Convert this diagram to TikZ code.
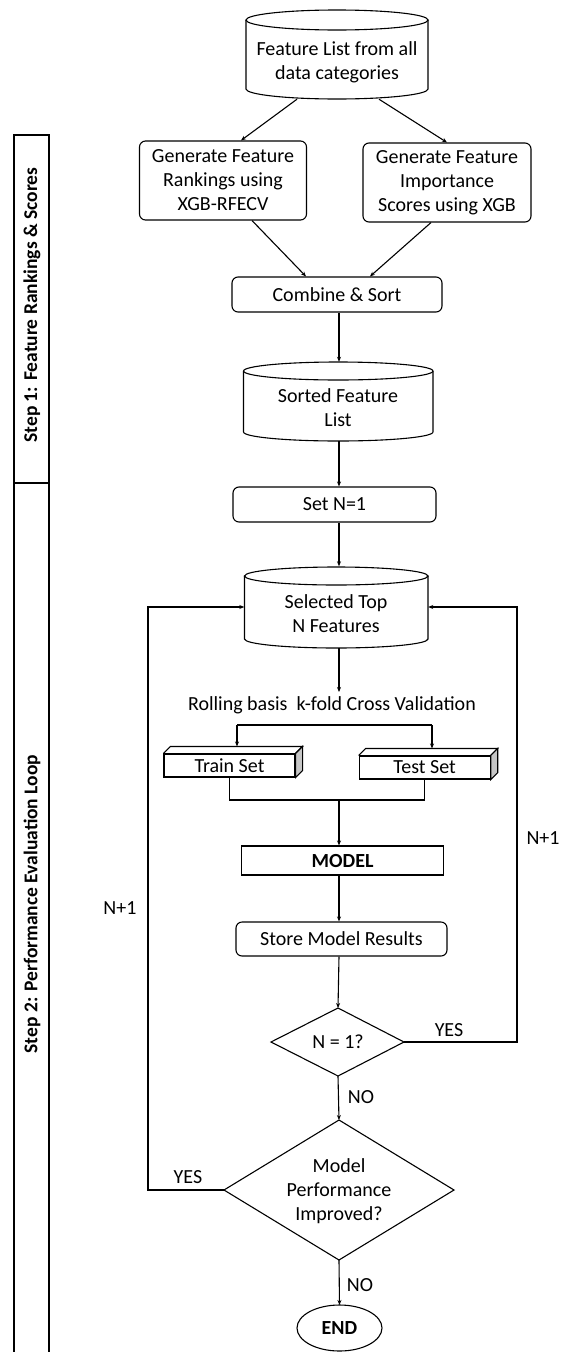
\documentclass[tikz,border=0pt]{standalone}
\usepackage{fontspec}
\setmainfont{Carlito}
\usetikzlibrary{arrows.meta,calc}
\newcommand\myfs{\fontsize{20}{24}\selectfont}
\newcommand\drawcyl[5]{%
  \pgfmathsetmacro\cylrx{(#2-#1)/2}%
  \draw[ln] (#1,#3+#5) -- (#1,#4-#5) arc[start angle=180,end angle=360,x radius=\cylrx pt,y radius=#5 pt] -- (#2,#3+#5);
  \draw[ln] ({(#1+#2)/2},#3+#5) ellipse[x radius=\cylrx pt, y radius=#5 pt];
}
\begin{document}
\begin{tikzpicture}[x=1pt,y=-1pt,
  base/.style={font=\myfs, align=center, inner sep=0pt},
  rbox/.style={base, draw, rounded corners=6pt, line width=1.1pt},
  sbox/.style={base, draw, line width=1.1pt},
  ghost/.style={inner sep=0pt},
  ln/.style={line width=1.1pt},
  arr/.style={ln, -{Stealth[length=5pt,width=4pt]}},
  lane/.style={font=\fontsize{19.5}{23}\selectfont\bfseries, rotate=90, inner sep=0pt}
]
\useasboundingbox (0,0) rectangle (568,1352);

% swimlane
\draw[ln] (14,135) rectangle (49,483);
\draw[ln] (14,483) -- (14,1353);
\draw[ln] (49,483) -- (49,1353);
\node[lane] (s1) at (32,305) {Step 1: Feature Rankings \& Scores};
\node[lane] (s2) at (32,904) {Step 2: Performance Evaluation Loop};

% cylinder 1
\drawcyl{246}{428}{10}{99}{10}
\node[ghost, minimum width=182pt, minimum height=89pt] (c1) at (337,54.5) {};
\node[base] (c1t) at (337,62) {Feature List from all\\data categories};

% two boxes
\node[rbox, minimum width=167pt, minimum height=79pt] (b1) at (223,180.5) {Generate Feature\\Rankings using\\XGB-RFECV};
\node[rbox, minimum width=168pt, minimum height=79pt] (b2) at (447,182.5) {Generate Feature\\Importance\\Scores using XGB};

\node[rbox, minimum width=210pt, minimum height=35pt] (cs) at (337,294.5) {Combine \& Sort};

% cylinder 2
\drawcyl{243.5}{433}{362}{441}{9}
\node[ghost, minimum width=189.5pt, minimum height=79pt] (c2) at (338.25,401.5) {};
\node[base] (c2t) at (338,408) {Sorted Feature\\List};

\node[rbox, minimum width=203pt, minimum height=35pt] (sn) at (334.5,504.5) {Set N=1};

% cylinder 3
\drawcyl{244.5}{428}{567}{648}{9}
\node[ghost, minimum width=183.5pt, minimum height=81pt] (c3) at (336.25,607) {};
\node[base] (c3t) at (336,614) {Selected Top\\N Features};

\node[base] (roll) at (332,705) {Rolling basis\ \ k-fold Cross Validation};

% train / test
\node[sbox, minimum width=131pt, minimum height=23pt] (tr) at (229.5,765.5) {Train Set};
\node[sbox, minimum width=131pt, minimum height=23pt] (te) at (424.7,767.5) {Test Set};
\foreach \b in {tr,te}{
  \draw[ln] (\b.north west) -- ([shift={(7,-7)}]\b.north west) -- ([shift={(7,-7)}]\b.north east) -- (\b.north east);
  \draw[ln, fill=gray!45] (\b.north east) -- ([shift={(7,-7)}]\b.north east) -- ([shift={(7,-7)}]\b.south east) -- (\b.south east) -- cycle;
}
\coordinate (trt) at ([yshift=7pt]tr.north);
\coordinate (tet) at ([yshift=7pt]te.north);
\coordinate (bl) at (237,725);
\coordinate (br) at (432,725);
\draw[ln] (bl) -- (br);
\draw[arr] (bl) -- (bl |- trt);
\draw[arr] (br) -- (br |- tet);
\coordinate (jn) at (339,800);
\draw[ln] (tr.south) |- (jn) -| (te.south);

\node[sbox, minimum width=202pt, minimum height=29pt, font=\myfs\bfseries] (md) at (342.6,860.5) {MODEL};
\node[rbox, minimum width=211pt, minimum height=34pt] (st) at (341.5,939) {Store Model Results};

% diamonds
\node[base] (d1) at (338,1042) {N = 1?};
\coordinate (d1n) at (338,1008);
\coordinate (d1e) at (404,1042);
\coordinate (d1s) at (338,1076);
\coordinate (d1w) at (271,1042);
\draw[ln] (d1n) -- (d1e) -- (d1s) -- (d1w) -- cycle;

\node[base] (d2) at (339,1191) {Model\\Performance\\Improved?};
\coordinate (d2n) at (339,1120);
\coordinate (d2e) at (454,1190);
\coordinate (d2s) at (339,1260);
\coordinate (d2w) at (224,1190);
\draw[ln] (d2n) -- (d2e) -- (d2s) -- (d2w) -- cycle;

\node[base, font=\myfs\bfseries] (en) at (339.5,1328) {END};
\draw[ln] (en) ellipse[x radius=42.5pt, y radius=23pt];
\coordinate (ent) at (339.5,1305);

% main connectors
\draw[arr] ([xshift=-40pt]c1.south) -- ([xshift=18pt]b1.north);
\draw[arr] ([xshift=42pt]c1.south) -- (b2.north);
\draw[arr] ([xshift=29pt]b1.south) -- ([xshift=-31pt]cs.north);
\draw[arr] ([xshift=-16pt]b2.south) -- ([xshift=33pt]cs.north);
\draw[arr] (jn |- cs.south) -- (jn |- c2.north);
\draw[arr] (jn |- c2.south) -- (jn |- sn.north);
\draw[arr] (jn |- sn.south) -- (jn |- c3.north);
\coordinate (rt) at (339,692);
\draw[arr] (jn |- c3.south) -- (rt);
\draw[arr] (jn) -- (jn |- md.north);
\draw[arr] (jn |- md.south) -- (jn |- st.north);
\draw[arr] (jn |- st.south) -- (d1n);
\draw[arr] (d1s) -- (d2n);
\draw[arr] (d2s) -- (ent);

% loops
\coordinate (rl) at (517,607);
\coordinate (ll) at (148,607);
\draw[arr] (d1e) -| (rl) -- (c3.east);
\draw[arr] (d2w) -| (ll) -- (c3.west);

% labels
\node[base] (y1) at (449,1030) {YES};
\node[base] (y2) at (188,1177) {YES};
\node[base] (n1) at (361,1097) {NO};
\node[base] (n2) at (360,1285) {NO};
\node[base] (p1) at (120,908) {N+1};
\node[base] (p2) at (543,838) {N+1};
\end{tikzpicture}
\end{document}
